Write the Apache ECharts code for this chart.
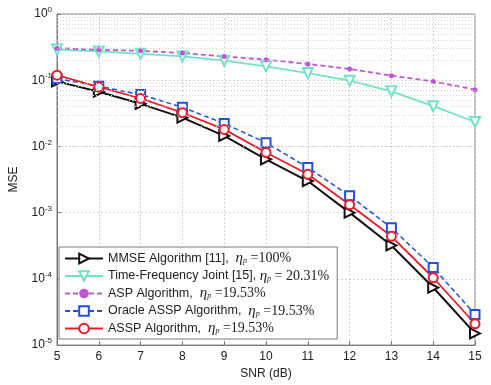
<!DOCTYPE html>
<html>
<head>
<meta charset="utf-8">
<title>mse</title>
<script type="text/javascript" src="https://cdn.jsdelivr.net/npm/echarts@6/dist/echarts.min.js"></script>
</head>
<body style="margin:0;background:#fff">
<div id="container" style="width:491px;height:385px;"></div>
<script type="text/javascript">
var snr = [5, 6, 7, 8, 9, 10, 11, 12, 13, 14, 15];
var mmse = [0.096, 0.067, 0.044, 0.0272, 0.0144, 0.0064, 0.003, 0.001, 0.00032, 0.000074, 0.000015];
var tfJoint = [0.29, 0.272, 0.25, 0.229, 0.197, 0.162, 0.128, 0.0986, 0.068, 0.0405, 0.0234];
var asp = [0.305, 0.288, 0.278, 0.257, 0.229, 0.204, 0.176, 0.148, 0.117, 0.096, 0.072];
var oracle = [0.106, 0.081, 0.0608, 0.039, 0.0222, 0.0114, 0.0048, 0.0018, 0.00059, 0.000149, 0.000029];
var assp = [0.119, 0.079, 0.053, 0.0323, 0.0181, 0.0081, 0.0038, 0.00132, 0.00044, 0.000104, 0.000021];
var names = ['MMSE', 'TF', 'ASP', 'Oracle', 'ASSP'];
var legendText = {
	MMSE: 'MMSE Algorithm [11],  {eta|η}{sub|p}{eq| =100%}',
	TF: 'Time-Frequency Joint [15], {eta|η}{sub|p}{eq| = 20.31%}',
	ASP: 'ASP Algorithm,  {eta|η}{sub|p}{eq| =19.53%}',
	Oracle: 'Oracle ASSP Algorithm,  {eta|η}{sub|p}{eq| =19.53%}',
	ASSP: 'ASSP Algorithm,  {eta|η}{sub|p}{eq| =19.53%}'
};

function pairs(arr){
	return snr.map(function(x, i){ return [x, arr[i]]; });
}

// minor grid lines 2..9 per decade, like matlab
var minorLines = [];
for (var d = -5; d < 0; d++) {
	for (var k = 2; k <= 9; k++) minorLines.push({ yAxis: k * Math.pow(10, d) });
}

var dom = document.getElementById("container");
var myChart = echarts.init(dom);
var gridColor = '#d4d4d4';
var option = {
	animation: false,
	textStyle: { fontFamily: 'Liberation Sans, Arial, sans-serif' },
	grid: { left: 51, right: 16, top: 14, bottom: 38, show: true, borderColor: '#7a7a7a', borderWidth: 1 },
	legend: {
		orient: 'vertical',
		left: 59, top: 247,
		data: names,
		itemWidth: 38, itemHeight: 12, itemGap: 2.5,
		padding: [4, 8, 3, 5],
		borderColor: '#7a7a7a', borderWidth: 1, borderRadius: 0,
		backgroundColor: '#fff',
		formatter: function(n){ return legendText[n]; },
		textStyle: {
			fontSize: 12.5, color: '#222', lineHeight: 13,
			rich: {
				eta: { fontFamily: 'Liberation Serif', fontStyle: 'italic', fontSize: 15, color: '#222', lineHeight: 13 },
				sub: { fontFamily: 'Liberation Serif', fontStyle: 'italic', fontSize: 8, verticalAlign: 'bottom', padding: [6, 0, 0, 0], color: '#222', lineHeight: 13 },
				eq: { fontFamily: 'Liberation Serif', fontSize: 14, color: '#222', lineHeight: 13 }
			}
		}
	},
	xAxis: {
		type: 'value', min: 5, max: 15, interval: 1,
		name: 'SNR (dB)', nameLocation: 'middle', nameGap: 19,
		nameTextStyle: { fontSize: 12, color: '#222' },
		axisLine: { lineStyle: { color: '#7a7a7a' } },
		axisTick: { inside: true, length: 4, lineStyle: { color: '#7a7a7a' } },
		axisLabel: { fontSize: 12, color: '#222', margin: 6 },
		splitLine: { show: true, lineStyle: { color: gridColor, type: [2, 2] } }
	},
	yAxis: {
		type: 'log', min: 1e-5, max: 1, logBase: 10,
		name: 'MSE', nameLocation: 'middle', nameGap: 37,
		nameTextStyle: { fontSize: 12, color: '#222' },
		axisLine: { show: true, lineStyle: { color: '#7a7a7a' } },
		axisTick: { inside: true, length: 4, lineStyle: { color: '#7a7a7a' } },
		axisLabel: {
			fontSize: 12, color: '#222', margin: 5,
			formatter: function(v){
				var e = Math.round(Math.log10(v));
				return '10{sup|' + e + '}';
			},
			rich: { sup: { fontSize: 8, verticalAlign: 'top', padding: [0, 0, 8, 0], color: '#222' } }
		},
		splitLine: { show: true, lineStyle: { color: gridColor, type: [2, 2] } }
	},
	series: [
		{
			name: 'gridMinor', type: 'line', data: [], silent: true,
			markLine: {
				silent: true, symbol: 'none', label: { show: false },
				lineStyle: { color: gridColor, type: [1, 2], width: 1 },
				data: minorLines
			}
		},
		{
			name: 'MMSE', type: 'line', data: pairs(mmse),
			symbol: 'emptyTriangle', symbolRotate: -90, symbolSize: 10,
			lineStyle: { color: '#111', width: 2 }, itemStyle: { color: '#111', borderWidth: 1.5 }
		},
		{
			name: 'TF', type: 'line', data: pairs(tfJoint),
			symbol: 'emptyTriangle', symbolRotate: 180, symbolSize: 10,
			lineStyle: { color: '#6fe3c8', width: 1.8 }, itemStyle: { color: '#6fe3c8', borderWidth: 1.5 }
		},
		{
			name: 'ASP', type: 'line', data: pairs(asp),
			symbol: 'circle', symbolSize: 5,
			lineStyle: { color: '#c054d6', width: 1.8, type: [5, 3] }, itemStyle: { color: '#c054d6' }
		},
		{
			name: 'Oracle', type: 'line', data: pairs(oracle),
			symbol: 'emptyRect', symbolSize: 9,
			lineStyle: { color: '#2150d8', width: 1.5, type: [5, 3] }, itemStyle: { color: '#2150d8', borderWidth: 1.5 }
		},
		{
			name: 'ASSP', type: 'line', data: pairs(assp),
			symbol: 'emptyCircle', symbolSize: 9,
			lineStyle: { color: '#ec1c24', width: 1.8 }, itemStyle: { color: '#ec1c24', borderWidth: 1.5 }
		}
	]
};
myChart.setOption(option, true);
</script>
</body>
</html>
